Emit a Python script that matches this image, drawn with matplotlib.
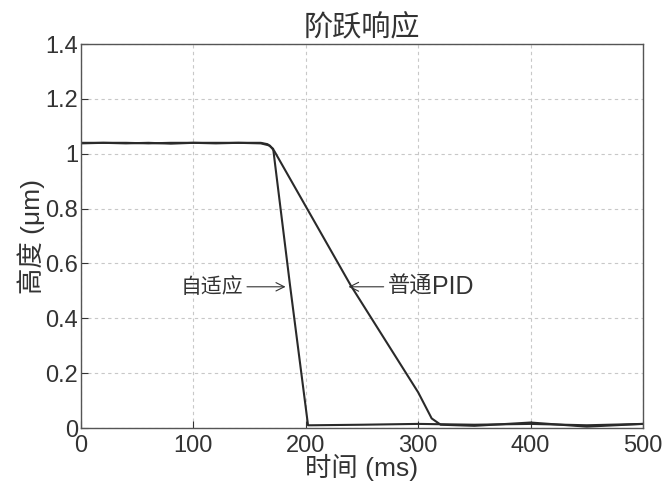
import matplotlib
matplotlib.use('Agg')
from matplotlib import pyplot as plt

plt.rcParams['font.family'] = ['Liberation Sans', 'Noto Sans CJK SC', 'DejaVu Sans']

# 自适应
t_ad = [0, 20, 40, 60, 80, 100, 120, 140, 160, 166, 171, 186, 202, 205, 250, 300, 350, 400, 450, 500]
h_ad = [1.04, 1.04, 1.038, 1.04, 1.037, 1.04, 1.04, 1.04, 1.04, 1.035, 1.018, 0.52, 0.01, 0.01, 0.012, 0.015, 0.012, 0.015, 0.01, 0.015]
# 普通PID
t_pid = [0, 20, 40, 60, 80, 100, 120, 140, 160, 168, 172, 240, 300, 312, 320, 350, 400, 450, 500]
h_pid = [1.038, 1.04, 1.04, 1.038, 1.04, 1.04, 1.038, 1.04, 1.038, 1.03, 1.01, 0.52, 0.13, 0.035, 0.012, 0.008, 0.02, 0.005, 0.015]

txt = '#333333'

fig = plt.figure(figsize=(6.67, 4.9), dpi=100)
ax = fig.add_axes([0.1214, 0.1265, 0.8426, 0.7835])

ax.plot(t_ad, h_ad, color='#2a2a2a', lw=1.5)
ax.plot(t_pid, h_pid, color='#2a2a2a', lw=1.5)

ax.set_xlim(0, 500)
ax.set_ylim(0, 1.4)
ax.set_xticks([0, 100, 200, 300, 400, 500])
ax.set_yticks([0, 0.2, 0.4, 0.6, 0.8, 1, 1.2, 1.4])
ax.set_yticklabels(['0', '0.2', '0.4', '0.6', '0.8', '1', '1.2', '1.4'])
ax.tick_params(direction='in', labelsize=17, length=5, colors=txt)
ax.tick_params(axis='x', pad=5)
ax.tick_params(axis='y', pad=2)
ax.grid(True, ls=(0, (3, 3)), color='#c8c8c8', lw=0.8)
for s in ax.spines.values():
    s.set_color('#555555')
    s.set_linewidth(1.0)

ax.set_title('阶跃响应', fontsize=21, pad=6, color=txt)
ax.set_xlabel('时间 (ms)', fontsize=19, labelpad=-2, color=txt)
ax.set_ylabel('高度 (μm)', fontsize=19, labelpad=0, color=txt)

ax.annotate('自适应', xy=(182, 0.515), xytext=(144, 0.515), fontsize=15, color=txt,
            ha='right', va='center',
            arrowprops=dict(arrowstyle='->', color=txt, lw=0.8, shrinkA=1, shrinkB=0))
a2 = ax.annotate('普通', xy=(238, 0.515), xytext=(273, 0.515), fontsize=16, color=txt,
                 ha='left', va='center',
                 arrowprops=dict(arrowstyle='->', color=txt, lw=0.8, shrinkA=1, shrinkB=0))
ax.annotate('PID', xy=(1, 0.5), xycoords=a2, fontsize=18, color=txt, ha='left', va='center')

plt.savefig('out.png', dpi=100)
